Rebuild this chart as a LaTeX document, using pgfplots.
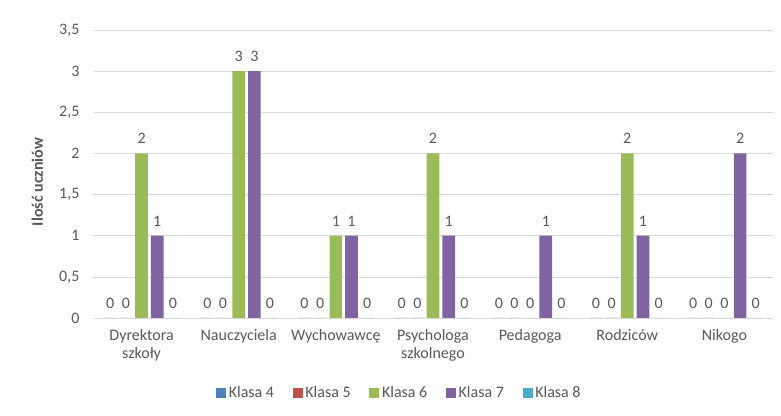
\documentclass[border=0pt]{standalone}
\usepackage{fontspec}
\setmainfont{Carlito}
\usepackage{pgfplots}
\pgfplotsset{compat=1.18}
\definecolor{kA}{HTML}{4F81BD}
\definecolor{kB}{HTML}{C0504D}
\definecolor{kC}{HTML}{9BBB59}
\definecolor{kD}{HTML}{8064A2}
\definecolor{kE}{HTML}{4BACC6}
\definecolor{txt}{HTML}{595959}
\definecolor{grd}{HTML}{D9D9D9}

\begin{document}
\fontsize{12}{14}\selectfont
\begin{tikzpicture}
\begin{axis}[
  scale only axis, width=510pt, height=216pt,
  ybar=2.25pt, bar width=9.5pt,
  xmin=-0.5, xmax=6.5, ymin=0, ymax=3.5,
  xtick=data, xticklabels={Dyrektora\\szkoły,Nauczyciela,Wychowawcę,Psychologa\\szkolnego,Pedagoga,Rodziców,Nikogo},
  xticklabel style={align=center, text=txt, font=\fontsize{12}{13.5}\selectfont, yshift=-4pt},
  ytick={0,0.5,...,3.5},
  yticklabel style={text=txt, xshift=-6pt},
  /pgf/number format/use comma, /pgf/number format/assume math mode=true,
  ylabel={\textbf{Ilość uczniów}}, ylabel style={text=txt, yshift=4pt, xshift=-6pt},
  axis x line*=bottom, axis y line*=left, y axis line style={draw=none},
  x axis line style={grd}, major tick length=0pt,
  ymajorgrids, grid style={grd},
  nodes near coords, every node near coord/.append style={text=txt, yshift=3pt},
  legend columns=5,
  legend style={draw=none, at={(0.451,-0.26)}, anchor=center, text=txt,
    /tikz/every even column/.append style={column sep=12pt}},
  legend image code/.code={\fill[#1] (0pt,-3.75pt) rectangle (7.5pt,3.75pt);},
]
\addplot[fill=kA,draw=none] coordinates {(0,0) (1,0) (2,0) (3,0) (4,0) (5,0) (6,0)};
\addplot[fill=kB,draw=none] coordinates {(0,0) (1,0) (2,0) (3,0) (4,0) (5,0) (6,0)};
\addplot[fill=kC,draw=none] coordinates {(0,2) (1,3) (2,1) (3,2) (4,0) (5,2) (6,0)};
\addplot[fill=kD,draw=none] coordinates {(0,1) (1,3) (2,1) (3,1) (4,1) (5,1) (6,2)};
\addplot[fill=kE,draw=none] coordinates {(0,0) (1,0) (2,0) (3,0) (4,0) (5,0) (6,0)};
\legend{Klasa 4,Klasa 5,Klasa 6,Klasa 7,Klasa 8}
\end{axis}
\pgfresetboundingbox
\path (-69.75pt,-73.5pt) rectangle (516pt,238.5pt);
\end{tikzpicture}
\end{document}
